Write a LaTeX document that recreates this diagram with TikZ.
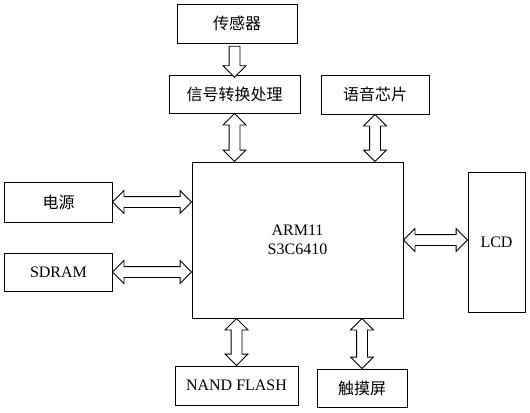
\documentclass[tikz,border=0pt]{standalone}
\usepackage{fontspec}
\setmainfont{Liberation Serif}
\newfontfamily\cjk{Noto Sans CJK SC}
\usetikzlibrary{shapes.arrows, calc}
\tikzstyle{block} = [rectangle, draw=black, line width=1bp, inner sep=0pt, text centered, font=\fontsize{16bp}{19bp}\selectfont]
\tikzstyle{fatarrow} = [single arrow, draw=black, line width=0.8bp, fill=white, inner xsep=0pt, inner ysep=5bp, single arrow head extend=6bp]
\tikzstyle{fatdouble} = [double arrow, draw=black, line width=0.8bp, fill=white, inner xsep=0pt, inner ysep=5bp, double arrow head extend=6bp]
% hollow arrow between two points: style, from, to
\newcommand{\link}[3]{\path let \p1=(#2), \p2=(#3), \n1={veclen(\x2-\x1,\y2-\y1)}, \n2={atan2(\y2-\y1,\x2-\x1)} in ($(#2)!0.5!(#3)$) node[#1, minimum height=\n1, rotate=\n2] {};}

\begin{document}
\begin{tikzpicture}[x=1bp, y=-1bp]
\useasboundingbox (0,0) rectangle (530,412);

\node (sensor) [block, minimum width=120bp, minimum height=39bp] at (237,23.5) {\cjk 传感器};
\node (signal) [block, minimum width=131bp, minimum height=38bp] at (234.5,94) {\cjk 信号转换处理};
\node (voice) [block, minimum width=108bp, minimum height=39bp] at (375,94.5) {\cjk 语音芯片};
\node (arm) [block, minimum width=211bp, minimum height=156bp, align=center] at (297.5,240) {ARM11\\S3C6410};
\node (power) [block, minimum width=107bp, minimum height=40bp] at (58.5,202) {\cjk 电源};
\node (sdram) [block, minimum width=107bp, minimum height=38bp] at (58.5,272) {SDRAM};
\node (lcd) [block, minimum width=57bp, minimum height=140bp] at (496.5,242) {LCD};
\node (nand) [block, minimum width=123bp, minimum height=39bp] at (236.5,385.5) {NAND FLASH};
\node (touch) [block, minimum width=90bp, minimum height=38bp] at (362,388) {\cjk 触摸屏};

\link{fatarrow}{signal.north |- sensor.south}{signal.north}
\link{fatdouble}{signal.south}{signal.south |- arm.north}
\link{fatdouble}{voice.south}{voice.south |- arm.north}
\link{fatdouble}{power.east}{power.east -| arm.west}
\link{fatdouble}{sdram.east}{sdram.east -| arm.west}
\link{fatdouble}{arm.east}{arm.east -| lcd.west}
\link{fatdouble}{nand.north |- arm.south}{nand.north}
\link{fatdouble}{touch.north |- arm.south}{touch.north}

\end{tikzpicture}
\end{document}
